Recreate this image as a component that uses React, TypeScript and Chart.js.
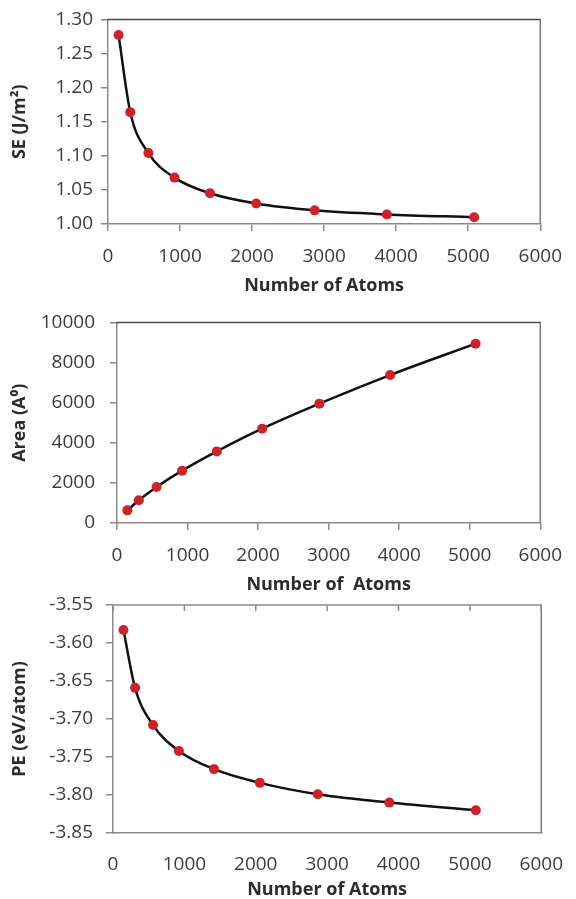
import React, { useEffect, useRef } from "react";
import { Chart, registerables } from "chart.js";

Chart.register(...registerables);

// ---- data ----
const atoms = [147, 309, 561, 923, 1415, 2057, 2869, 3871, 5083];
const surfaceEnergy = [1.277, 1.164, 1.104, 1.068, 1.045, 1.03, 1.02, 1.014, 1.01];
const area = [630, 1130, 1795, 2610, 3570, 4700, 5950, 7375, 8940];
const potentialEnergy = [-3.583, -3.659, -3.708, -3.742, -3.766, -3.784, -3.799, -3.81, -3.82];

const xTicks = [0, 1000, 2000, 3000, 4000, 5000, 6000];
const seTicks = [1.0, 1.05, 1.1, 1.15, 1.2, 1.25, 1.3];
const areaTicks = [0, 2000, 4000, 6000, 8000, 10000];
const peTicks = [-3.85, -3.8, -3.75, -3.7, -3.65, -3.6, -3.55];

const xTitle1 = "Number of Atoms";
const xTitle2 = "Number of  Atoms";
const xTitle3 = "Number of Atoms";
const yTitle1 = "SE (J/m\u00B2)";
const yTitle2 = "Area (A\u2070)";
const yTitle3 = "PE (eV/atom)";

const FONT = "'Open Sans', sans-serif";
const AXIS = "#8a8a8a";
const FRAME_TOP = "#4a4a4a";
const FRAME_RIGHT = "#7a7a7a";
const TICK_TEXT = "#3c3c3c";
const TITLE_TEXT = "#2c2c2c";
const RED = "#cf2228";

type Panel = {
  top: number;
  height: number;
  padTop: number;
  padBottom: number;
  padRight: number;
  yWidth: number;
  xHeight: number;
  yLabelPad: number;
  xLabelPad: number;
  values: number[];
  yTicks: number[];
  decimals: number;
  xTitle: string;
  yTitle: string;
  topTicks: boolean;
};

const panels: Panel[] = [
  {
    top: 0, height: 300, padTop: 19, padBottom: 5, padRight: 26, yWidth: 108, xHeight: 71,
    yLabelPad: 8, xLabelPad: 14, values: surfaceEnergy, yTicks: seTicks, decimals: 2,
    xTitle: xTitle1, yTitle: yTitle1, topTicks: false,
  },
  {
    top: 296, height: 300, padTop: 25, padBottom: 2, padRight: 27, yWidth: 117, xHeight: 71,
    yLabelPad: 15, xLabelPad: 14, values: area, yTicks: areaTicks, decimals: 0,
    xTitle: xTitle2, yTitle: yTitle2, topTicks: false,
  },
  {
    top: 580, height: 319, padTop: 25, padBottom: 0, padRight: 27, yWidth: 113, xHeight: 66,
    yLabelPad: 13, xLabelPad: 13, values: potentialEnergy, yTicks: peTicks, decimals: 2,
    xTitle: xTitle3, yTitle: yTitle3, topTicks: true,
  },
];

const framePlugin = {
  id: "frame",
  beforeDatasetsDraw(chart: any, _args: any, opts: any) {
    const { ctx, chartArea } = chart;
    const { left, right, top, bottom } = chartArea;
    ctx.save();
    ctx.lineWidth = 1.5;
    ctx.lineCap = "butt";
    ctx.strokeStyle = opts.topTicks ? AXIS : FRAME_TOP;
    ctx.beginPath();
    ctx.moveTo(left - 0.75, top);
    ctx.lineTo(right + 0.75, top);
    ctx.stroke();
    ctx.strokeStyle = FRAME_RIGHT;
    ctx.beginPath();
    ctx.moveTo(right, top);
    ctx.lineTo(right, bottom);
    ctx.stroke();
    if (opts.topTicks) {
      const xs = chart.scales.x;
      ctx.strokeStyle = AXIS;
      for (const t of xs.ticks) {
        const px = xs.getPixelForValue(t.value);
        ctx.beginPath();
        ctx.moveTo(px, top);
        ctx.lineTo(px, top + 6);
        ctx.stroke();
      }
    }
    ctx.restore();
  },
};

function PanelChart({ p }: { p: Panel }) {
  const ref = useRef<HTMLCanvasElement | null>(null);
  useEffect(() => {
    if (!ref.current) return;
    const chart = new Chart(ref.current, {
      type: "line",
      data: {
        datasets: [
          {
            data: atoms.map((x, i) => ({ x, y: p.values[i] })),
            borderColor: "#111111",
            borderWidth: 2.5,
            cubicInterpolationMode: "monotone",
            pointRadius: 5,
            pointBackgroundColor: RED,
            pointBorderColor: RED,
            pointBorderWidth: 0,
            fill: false,
          },
        ],
      },
      options: {
        animation: false,
        responsive: false,
        devicePixelRatio: 1,
        events: [],
        layout: {
          padding: { top: p.padTop, bottom: p.padBottom, left: 0, right: p.padRight },
        },
        plugins: {
          legend: { display: false },
          tooltip: { enabled: false },
          frame: { topTicks: p.topTicks },
        } as any,
        scales: {
          x: {
            type: "linear",
            position: "bottom",
            min: 0,
            max: 6000,
            afterBuildTicks: (s: any) => {
              s.ticks = xTicks.map((v) => ({ value: v }));
            },
            afterFit: (s: any) => {
              s.height = p.xHeight;
            },
            grid: {
              drawOnChartArea: false,
              drawTicks: true,
              tickLength: 7,
              lineWidth: 1.5,
              color: p.topTicks ? "rgba(0,0,0,0)" : AXIS,
            },
            border: { display: true, color: AXIS, width: 1.5 },
            ticks: {
              padding: p.xLabelPad,
              color: TICK_TEXT,
              font: { family: FONT, size: 19 },
              maxRotation: 0,
              autoSkip: false,
              callback: (v: any) => String(v),
            },
            title: {
              display: true,
              text: p.xTitle,
              color: TITLE_TEXT,
              font: { family: FONT, size: 18, weight: "bold", lineHeight: 1 },
              padding: { top: 0, bottom: 0 },
            },
          },
          y: {
            type: "linear",
            position: "left",
            min: p.yTicks[0],
            max: p.yTicks[p.yTicks.length - 1],
            afterBuildTicks: (s: any) => {
              s.ticks = p.yTicks.map((v) => ({ value: v }));
            },
            afterFit: (s: any) => {
              s.width = p.yWidth;
            },
            grid: {
              drawOnChartArea: false,
              drawTicks: true,
              tickLength: 7,
              lineWidth: 1.5,
              color: AXIS,
            },
            border: { display: true, color: AXIS, width: 1.5 },
            ticks: {
              padding: p.yLabelPad,
              color: TICK_TEXT,
              font: { family: FONT, size: 19 },
              autoSkip: false,
              callback: (v: any) => Number(v).toFixed(p.decimals),
            },
            title: {
              display: true,
              text: p.yTitle,
              color: TITLE_TEXT,
              font: { family: FONT, size: 18, weight: "bold", lineHeight: 1 },
              padding: { top: 11, bottom: 0 },
            },
          },
        },
      } as any,
      plugins: [framePlugin as any],
    });
    return () => chart.destroy();
  }, [p]);
  return (
    <canvas
      ref={ref}
      width={576}
      height={p.height}
      style={{ position: "absolute", left: 0, top: p.top, width: 576, height: p.height, display: "block" }}
    />
  );
}

export default function App() {
  return (
    <div
      style={{
        position: "absolute",
        left: 0,
        top: 0,
        width: 576,
        height: 899,
        overflow: "hidden",
        background: "#ffffff",
      }}
    >
      {panels.map((p, i) => (
        <PanelChart key={i} p={p} />
      ))}
    </div>
  );
}
